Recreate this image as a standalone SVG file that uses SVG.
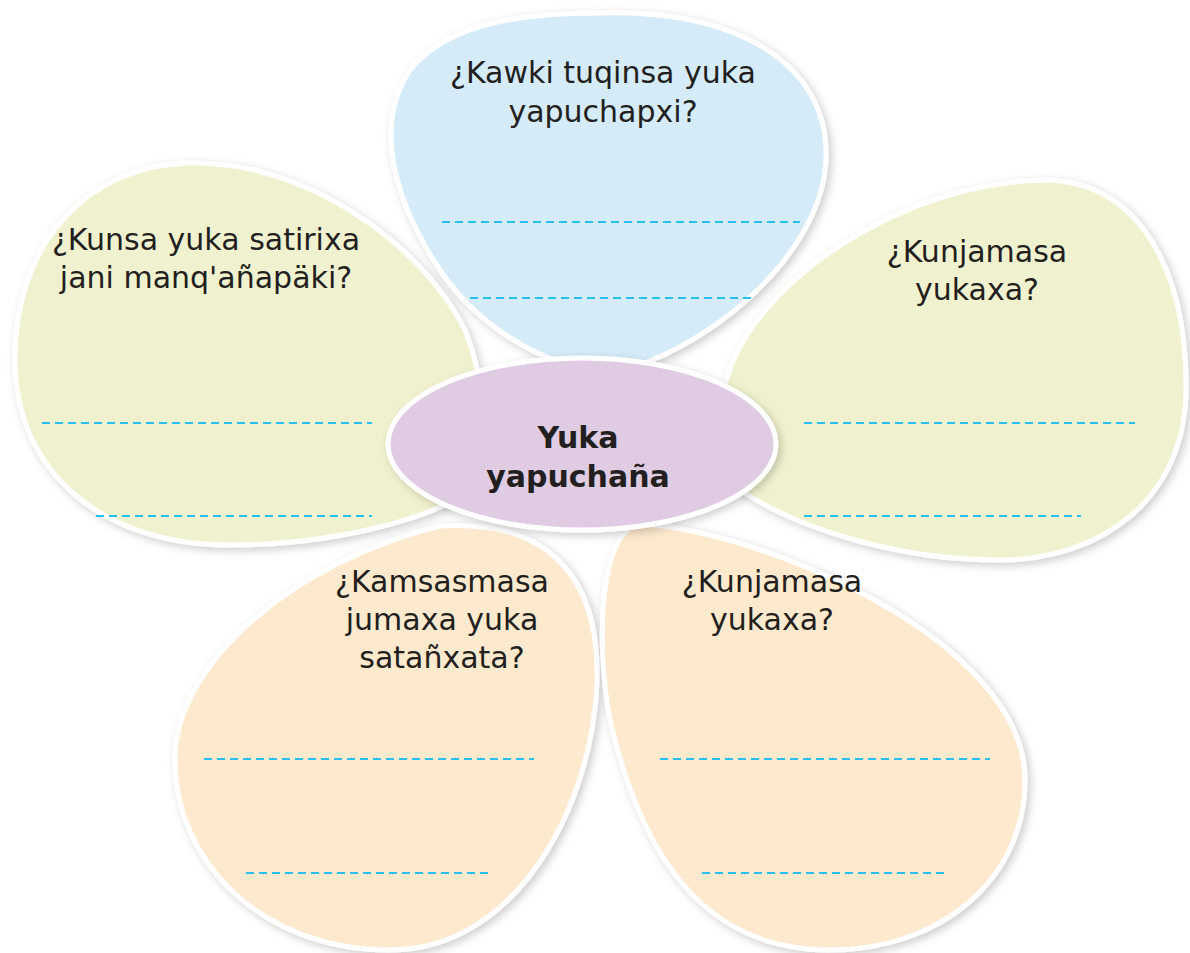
<svg xmlns="http://www.w3.org/2000/svg" width="1190" height="953" viewBox="0 0 1190 953">
<defs>
<filter id="sh" x="-10%" y="-10%" width="120%" height="120%">
<feDropShadow dx="3" dy="3" stdDeviation="4" flood-color="#000" flood-opacity="0.2"/>
</filter>
<style>
.petal{stroke:#ffffff;stroke-width:5;filter:url(#sh)}
.blue{fill:#d5ebf8}.green{fill:#f0f2cf}.orange{fill:#fde9cd}.purple{fill:#dfcce3}
.dash{stroke:#29c0ee;stroke-width:2.2;stroke-dasharray:8 5;fill:none}
.q{font-family:"DejaVu Sans","Noto Sans",sans-serif;font-size:30px;fill:#231f20;text-anchor:middle}
.c{font-family:"DejaVu Sans","Noto Sans",sans-serif;font-size:30px;font-weight:bold;fill:#231f20;text-anchor:middle}
</style>
</defs>
<rect width="1190" height="953" fill="#ffffff"/>
<g id="petal-bottom-left">
<path class="petal orange" d="M 440 526 C 530 520, 600 560, 597 680 C 594 800, 520 950, 390 950 C 260 950, 175 860, 175 760 C 175 660, 300 560, 440 526 Z"/>
<text class="q" x="442" y="592">¿Kamsasmasa</text>
<text class="q" x="442" y="630">jumaxa yuka</text>
<text class="q" x="442" y="668">satañxata?</text>
<line class="dash" x1="204" y1="759" x2="534" y2="759"/>
<line class="dash" x1="246" y1="873" x2="493" y2="873"/>
</g>
<g id="petal-bottom-right">
<path class="petal orange" d="M 640 524 C 760 530, 1025 640, 1025 780 C 1025 880, 940 950, 830 950 C 700 950, 640 850, 610 720 C 595 640, 600 530, 640 524 Z"/>
<text class="q" x="772" y="592">¿Kunjamasa</text>
<text class="q" x="772" y="630">yukaxa?</text>
<line class="dash" x1="660" y1="759" x2="990" y2="759"/>
<line class="dash" x1="702" y1="873" x2="948" y2="873"/>
</g>
<g id="petal-left">
<path class="petal green" d="M 190 163 C 300 160, 420 240, 465 330 C 485 380, 490 440, 470 490 C 430 520, 330 545, 230 545 C 100 545, 15 470, 15 360 C 15 240, 90 165, 190 163 Z"/>
<text class="q" x="206" y="250">¿Kunsa yuka satirixa</text>
<text class="q" x="206" y="288">jani manq'añapäki?</text>
<line class="dash" x1="42" y1="423" x2="372" y2="423"/>
<line class="dash" x1="96" y1="516" x2="372" y2="516"/>
</g>
<g id="petal-right">
<path class="petal green" d="M 1050 180 C 1140 185, 1187 270, 1186 390 C 1185 500, 1100 560, 1000 560 C 900 560, 800 530, 740 490 C 720 450, 715 410, 728 375 C 755 285, 900 180, 1050 180 Z"/>
<text class="q" x="977" y="262">¿Kunjamasa</text>
<text class="q" x="977" y="300">yukaxa?</text>
<line class="dash" x1="804" y1="423" x2="1135" y2="423"/>
<line class="dash" x1="804" y1="516" x2="1081" y2="516"/>
</g>
<g id="petal-top">
<path class="petal blue" d="M 605 13 C 730 10, 830 60, 826 160 C 822 250, 720 340, 630 368 C 560 380, 480 330, 440 270 C 400 210, 370 130, 410 70 C 450 20, 530 13, 605 13 Z"/>
<text class="q" x="603" y="83">¿Kawki tuqinsa yuka</text>
<text class="q" x="603" y="122">yapuchapxi?</text>
<line class="dash" x1="442" y1="222" x2="800" y2="222"/>
<line class="dash" x1="470" y1="298" x2="755" y2="298"/>
</g>
<g id="center">
<ellipse class="petal purple" cx="582" cy="444" rx="194" ry="86"/>
<text class="c" x="578" y="448">Yuka</text>
<text class="c" x="578" y="487">yapuchaña</text>
</g>
<g id="connectors"/>
</svg>
